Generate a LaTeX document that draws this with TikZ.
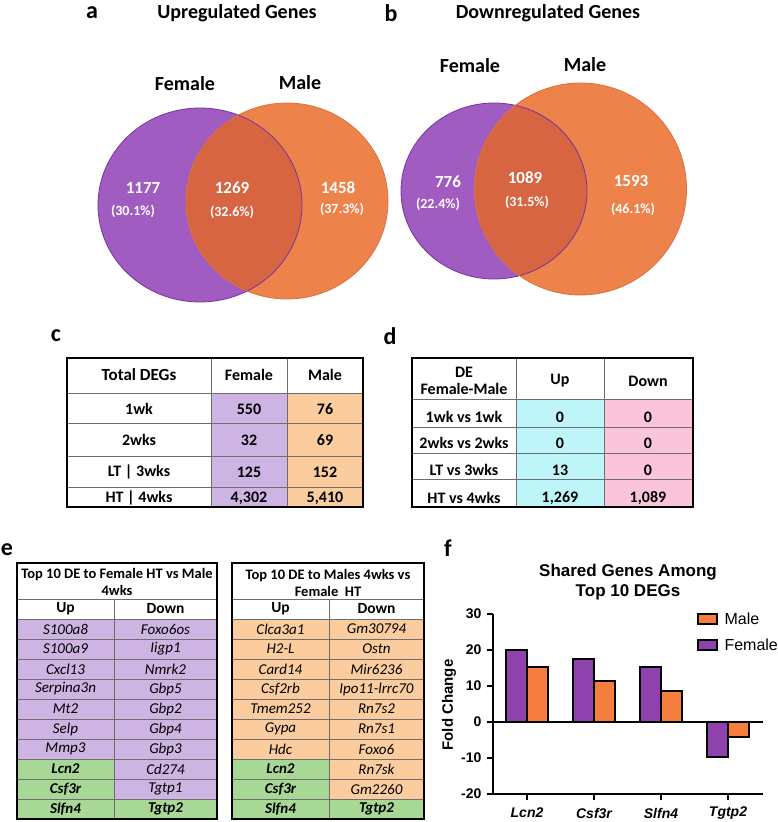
\documentclass[tikz,border=0pt]{standalone}
\usepackage{fontspec}
\setmainfont{Carlito}
\newfontfamily\arialf{Liberation Sans}
\usetikzlibrary{positioning}

\definecolor{vpurple}{RGB}{160,92,192}
\definecolor{vpurpleedge}{RGB}{120,50,160}
\definecolor{vorange}{RGB}{237,130,75}
\definecolor{vorangeedge}{RGB}{222,112,62}
\definecolor{voverlap}{RGB}{215,101,66}
\definecolor{cellpurple}{RGB}{205,180,226}
\definecolor{cellorange}{RGB}{251,205,158}
\definecolor{cellcyan}{RGB}{190,245,249}
\definecolor{cellpink}{RGB}{250,196,219}
\definecolor{cellgreen}{RGB}{168,216,150}
\definecolor{barpurple}{RGB}{142,66,173}
\definecolor{barorange}{RGB}{245,126,62}
\definecolor{gridgray}{RGB}{110,110,110}

\begin{document}
\begin{tikzpicture}[x=1pt, y=-1pt,
  panel/.style={font=\fontsize{24}{24}\selectfont\bfseries},
  vtitle/.style={font=\fontsize{20}{22}\selectfont\bfseries},
  vnum/.style={text=white, font=\fontsize{17}{18}\selectfont\bfseries},
  vpct/.style={text=white, font=\fontsize{14}{15}\selectfont\bfseries},
  cell/.style={font=\fontsize{16}{17}\selectfont\bfseries},
  etitle/.style={align=center, font=\fontsize{14.5}{17}\selectfont\bfseries},
  ehead/.style={font=\fontsize{15.5}{16}\selectfont\bfseries},
  gene/.style={font=\fontsize{15}{16}\selectfont\itshape},
  inner/.style={draw=gridgray, line width=0.8pt},
  outer/.style={draw=black, line width=2.2pt},
  bar/.style={draw=black, line width=2pt},
  axis/.style={draw=black, line width=1.6pt},
  tick/.style={font=\arialf\fontsize{14}{14}\selectfont\bfseries},
  legtext/.style={font=\arialf\fontsize{16}{16}\selectfont, anchor=west}
]
\useasboundingbox (0,0) rectangle (777,822);

% a: upregulated
\node[panel] (pa) at (92,13) {a};
\node[vtitle] (ta) at (237,13) {Upregulated Genes};
\node[vtitle] (fa) at (185,84) {Female};
\node[vtitle] (ma) at (300,83) {Male};
\fill[vpurple] (200,205) ellipse [x radius=102, y radius=97];
\fill[vorange] (287,201) ellipse [x radius=101, y radius=98];
\begin{scope}
  \clip (200,205) ellipse [x radius=102, y radius=97];
  \fill[voverlap] (287,201) ellipse [x radius=101, y radius=98];
\end{scope}
\draw[vpurpleedge, line width=0.8pt] (200,205) ellipse [x radius=102, y radius=97];
\draw[vorangeedge, line width=0.8pt] (287,201) ellipse [x radius=101, y radius=98];
\node[vnum] (a1) at (143,188) {1177};
\node[vpct] (a2) at (133,211) {(30.1\%)};
\node[vnum] (a3) at (232,188) {1269};
\node[vpct] (a4) at (232,212) {(32.6\%)};
\node[vnum] (a5) at (338,188) {1458};
\node[vpct] (a6) at (342,209) {(37.3\%)};

% b: downregulated
\node[panel] (pb) at (391,13) {b};
\node[vtitle] (tb) at (548,13) {Downregulated Genes};
\node[vtitle] (fb) at (470,66) {Female};
\node[vtitle] (mb) at (585,65) {Male};
\fill[vpurple] (494,191) ellipse [x radius=93, y radius=88];
\fill[vorange] (580.5,189) circle [radius=106];
\begin{scope}
  \clip (494,191) ellipse [x radius=93, y radius=88];
  \fill[voverlap] (580.5,189) circle [radius=106];
\end{scope}
\draw[vpurpleedge, line width=0.8pt] (494,191) ellipse [x radius=93, y radius=88];
\draw[vorangeedge, line width=0.8pt] (580.5,189) circle [radius=106];
\node[vnum] (b1) at (448,182) {776};
\node[vpct] (b2) at (438,204) {(22.4\%)};
\node[vnum] (b3) at (525,178) {1089};
\node[vpct] (b4) at (527,202) {(31.5\%)};
\node[vnum] (b5) at (631,181) {1593};
\node[vpct] (b6) at (633,209) {(46.1\%)};

% c: total DEGs
\node[panel] (pc) at (56,336) {c};
\fill[cellpurple] (211,393) rectangle (287,507);
\fill[cellorange] (287,393) rectangle (363,507);
\foreach \y in {393,423,456,487} \draw[inner] (67,\y) -- (363,\y);
\foreach \x in {211,287} \draw[inner] (\x,358) -- (\x,507);
\draw[outer] (67,358) rectangle (363,507);
\node[cell, font=\fontsize{17}{18}\selectfont\bfseries] (ch1) at (139,375) {Total DEGs};
\node[cell] (ch2) at (249,375) {Female};
\node[cell] (ch3) at (325,375) {Male};
\foreach \y/\t/\f/\m [count=\i] in {409/1wk/550/76, 440/2wks/32/69,
    472/LT | 3wks/125/152, 498/HT | 4wks/{4,302}/{5,410}} {
  \node[cell] (cr\i) at (139,\y) {\t};
  \node[cell] (cf\i) at (249,\y) {\f};
  \node[cell] (cm\i) at (325,\y) {\m};
}

% d: female vs male
\node[panel] (pd) at (390,336) {d};
\fill[cellcyan] (516,399) rectangle (604,507);
\fill[cellpink] (604,399) rectangle (693,507);
\foreach \y in {399,427,453,479} \draw[inner] (412,\y) -- (693,\y);
\foreach \x in {516,604} \draw[inner] (\x,358) -- (\x,507);
\draw[outer] (412,358) rectangle (693,507);
\node[cell, align=center] (dh1) at (464,381) {DE\\Female-Male};
\node[cell] (dh2) at (560,381) {Up};
\node[cell] (dh3) at (648,381) {Down};
\foreach \y/\t/\u/\d [count=\i] in {417/1wk vs 1wk/0/0, 443/2wks vs 2wks/0/0,
    470/LT vs 3wks/13/0, 498/HT vs 4wks/{1,269}/{1,089}} {
  \node[cell] (dr\i) at (464,\y) {\t};
  \node[cell] (du\i) at (560,\y) {\u};
  \node[cell] (dd\i) at (648,\y) {\d};
}

% e: top 10 tables
\node[panel] (pe) at (7,550) {e};
\fill[cellpurple] (17,619) rectangle (217,819);
\fill[cellgreen] (17,759) rectangle (114,819);
\fill[cellgreen] (114,799) rectangle (217,819);
\fill[cellorange] (232,619) rectangle (424,819);
\fill[cellgreen] (232,759) rectangle (329,819);
\fill[cellgreen] (329,799) rectangle (424,819);
\foreach \l/\m/\r in {17/114/217, 232/329/424} {
  \foreach \y in {599,619,...,799} \draw[inner] (\l,\y) -- (\r,\y);
  \draw[inner] (\m,599) -- (\m,819);
  \draw[outer] (\l,563) rectangle (\r,819);
}
\node[etitle] (et1) at (117,582) {Top 10 DE to Female HT vs Male\\4wks};
\node[etitle] (et2) at (328,583) {Top 10 DE to Males 4wks vs\\Female\ \ HT};
\node[ehead] (eh1) at (65.5,609) {Up};
\node[ehead] (eh2) at (165.5,609) {Down};
\node[ehead] (eh3) at (280.5,609) {Up};
\node[ehead] (eh4) at (376.5,609) {Down};
\foreach \g [count=\k] in {S100a8,S100a9,Cxcl13,Serpina3n,Mt2,Selp,Mmp3,Lcn2,Csf3r,Slfn4}
  \node[gene] (eu\k) at (65.5,{609+20*\k}) {\ifnum\k>7 \bfseries\fi\g};
\foreach \g [count=\k] in {Foxo6os,Iigp1,Nmrk2,Gbp5,Gbp2,Gbp4,Gbp3,Cd274,Tgtp1,Tgtp2}
  \node[gene] (ed\k) at (165.5,{609+20*\k}) {\ifnum\k>9 \bfseries\fi\g};
\foreach \g [count=\k] in {Clca3a1,H2-L,Card14,Csf2rb,Tmem252,Gypa,Hdc,Lcn2,Csf3r,Slfn4}
  \node[gene] (mu\k) at (280.5,{609+20*\k}) {\ifnum\k>7 \bfseries\fi\g};
\foreach \g [count=\k] in {Gm30794,Ostn,Mir6236,Ipo11-lrrc70,Rn7s2,Rn7s1,Foxo6,Rn7sk,Gm2260,Tgtp2}
  \node[gene] (md\k) at (376.5,{609+20*\k}) {\ifnum\k>9 \bfseries\fi\g};

% f: shared genes chart
\node[panel] (pf) at (448,548) {f};
\node[font=\arialf\fontsize{17}{20}\selectfont\bfseries, align=center] (tf) at (628,582)
  {Shared Genes Among\\Top 10 DEGs};
\node[tick, font=\arialf\fontsize{15}{15}\selectfont\bfseries, rotate=90] (yl) at (449,705) {Fold Change};
\begin{scope}[yshift=-722pt, y=3.6pt]
  \foreach \c/\f/\m/\g [count=\i] in {527/20.1/15.3/Lcn2, 594/17.6/11.4/Csf3r,
      661/15.3/8.6/Slfn4, 728/-9.7/-4.2/Tgtp2} {
    \draw[bar, fill=barpurple] ({\c-21},0) rectangle (\c,\f);
    \draw[bar, fill=barorange] (\c,0) rectangle ({\c+21},\m);
    \draw[axis] (\c,-20) -- (\c,-21.7);
    \node[tick, font=\arialf\fontsize{14}{14}\selectfont\bfseries\itshape] (g\i) at (\c,-25.3) {\g};
  }
  \draw[axis] (493,0) -- (763,0);
  \draw[axis] (493,-20) -- (763,-20);
  \draw[axis] (493,-20) -- (493,30);
  \foreach \v [count=\i] in {-20,-10,...,30} {
    \draw[axis] (487,\v) -- (493,\v);
    \node[tick, anchor=east] (yt\i) at (485,\v) {\v};
  }
\end{scope}
\draw[bar, fill=barorange] (698,614) rectangle (717,624);
\node[legtext] (lm) at (721,619) {Male};
\draw[bar, fill=barpurple] (698,640) rectangle (717,650);
\node[legtext] (lf) at (721,645) {Female};
\end{tikzpicture}
\end{document}
